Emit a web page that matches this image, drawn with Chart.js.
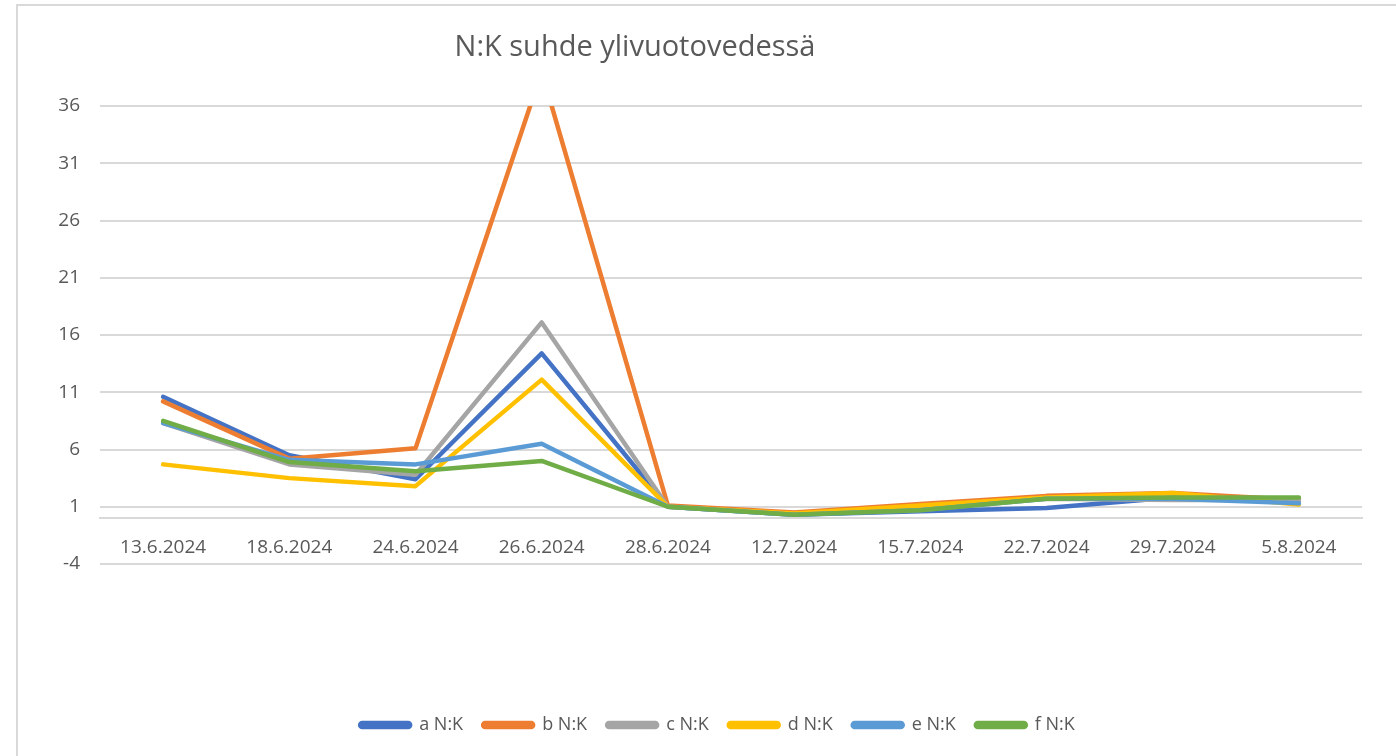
<!DOCTYPE html>
<html>
<head>
<meta charset="utf-8">
<script src="https://cdn.jsdelivr.net/npm/chart.js@4"></script>
<style>
  body { margin: 0; background: #fff; }
</style>
</head>
<body>
<canvas id="myChart" width="1396" height="756"></canvas>
<script>
const ctx = document.getElementById('myChart');

const TITLE = 'N:K suhde ylivuotovedessä';
const LABELS = ['13.6.2024', '18.6.2024', '24.6.2024', '26.6.2024', '28.6.2024',
                '12.7.2024', '15.7.2024', '22.7.2024', '29.7.2024', '5.8.2024'];

const A_data = [10.6, 5.5, 3.4, 14.4, 1.0, 0.3, 0.6, 0.9, 1.8, 1.6];
const B_data = [10.2, 5.2, 6.1, 39, 1.1, 0.5, 1.25, 1.95, 2.2, 1.6];
const C_data = [8.3, 4.7, 3.8, 17.1, 1.0, 0.35, 0.9, 1.7, 1.6, 1.6];
const D_data = [4.7, 3.5, 2.8, 12.1, 1.0, 0.4, 1.1, 1.8, 2.2, 1.2];
const E_data = [8.3, 5.1, 4.7, 6.5, 1.0, 0.3, 0.7, 1.7, 1.7, 1.3];
const F_data = [8.5, 4.9, 4.1, 5.0, 1.0, 0.3, 0.7, 1.7, 1.8, 1.8];

const Y_MIN = -4;
const Y_MAX = 36;
const Y_STEP = 5;

const TEXT = '#595959';
const GRID = '#d9d9d9';
const FONT = "'Open Sans', 'Noto Sans', sans-serif";

function line(label, data, color, order) {
    return {
        label: label,
        data: data,
        borderColor: color,
        backgroundColor: color,
        borderWidth: 4.5,
        pointRadius: 0,
        tension: 0,
        borderCapStyle: 'round',
        borderJoinStyle: 'round',
        clip: {left: 6, right: 6, top: 0, bottom: 6},
        order: order
    };
}

// title + outer frame, drawn on the canvas; legend nudged to sit like the original
const extras = {
    id: 'extras',
    afterLayout(chart) {
        chart.legend.left = 39;
        chart.legend.right = 1396;
    },
    beforeDraw(chart) {
        const c = chart.ctx;
        c.save();
        c.strokeStyle = GRID;
        c.lineWidth = 2;
        c.strokeRect(17, 5, 1420, 800);
        c.fillStyle = TEXT;
        c.font = "29px " + FONT;
        c.textAlign = 'center';
        c.textBaseline = 'middle';
        c.fillText(TITLE, 635, 48);
        c.restore();
    }
};

window.myChart = new Chart(ctx, {
    type: 'line',
    data: {
        labels: LABELS,
        datasets: [
            line('a N:K', A_data, '#4472C4', 6),
            line('b N:K', B_data, '#ED7D31', 5),
            line('c N:K', C_data, '#A5A5A5', 4),
            line('d N:K', D_data, '#FFC000', 3),
            line('e N:K', E_data, '#5B9BD5', 2),
            line('f N:K', F_data, '#70AD47', 1)
        ]
    },
    options: {
        responsive: false,
        animation: false,
        layout: {
            padding: {left: 0, right: 34, top: 106, bottom: 12}
        },
        plugins: {
            title: {display: false},
            tooltip: {enabled: false},
            legend: {
                position: 'bottom',
                title: {
                    display: true,
                    text: ' ',
                    font: {size: 10, lineHeight: 1},
                    padding: {top: 122, bottom: 0}
                },
                labels: {
                    boxWidth: 50,
                    boxHeight: 4,
                    useBorderRadius: true,
                    borderRadius: 2,
                    padding: 20,
                    color: TEXT,
                    font: {family: FONT, size: 18},
                    sort: (a, b) => a.datasetIndex - b.datasetIndex
                }
            }
        },
        scales: {
            x: {
                position: {y: 0},
                offset: true,
                grid: {display: false, drawTicks: false},
                border: {display: true, color: GRID, width: 2},
                ticks: {
                    color: TEXT,
                    font: {family: FONT, size: 19},
                    padding: 18,
                    maxRotation: 0,
                    autoSkip: false
                }
            },
            y: {
                min: Y_MIN,
                max: Y_MAX,
                afterFit(scale) { scale.width = 100; },
                border: {display: false},
                grid: {color: GRID, lineWidth: 2, drawTicks: false},
                ticks: {
                    stepSize: Y_STEP,
                    color: TEXT,
                    font: {family: FONT, size: 19},
                    padding: 20
                }
            }
        }
    },
    plugins: [extras]
});
</script>
</body>
</html>
